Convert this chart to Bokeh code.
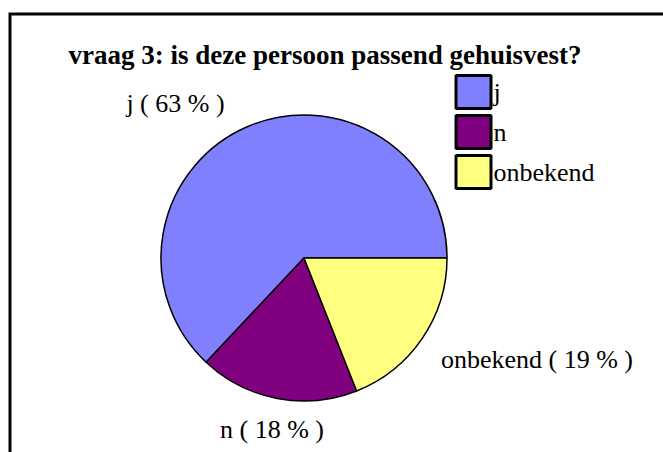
import math
from bokeh.plotting import figure
from bokeh.models import Range1d, ColumnDataSource
from bokeh.core.properties import value
from bokeh.embed import file_html
from bokeh.resources import INLINE

# ---- data ----
title_text = "vraag 3: is deze persoon passend gehuisvest?"
categories = ["j", "n", "onbekend"]
percentages = [63, 18, 19]
colors = ["#8080FF", "#800080", "#FFFF80"]

W, H = 663, 452
p = figure(width=W, height=H, output_backend="svg", toolbar_location=None,
           x_range=Range1d(0, W), y_range=Range1d(0, H),
           min_border=0, outline_line_color=None)
p.axis.visible = False
p.grid.visible = False
p.background_fill_color = "white"
p.border_fill_color = "white"

def Y(page_y):
    return H - page_y

def X(page_x):
    return page_x

FONT = value("Liberation Serif")

# frame (top and left edges visible)
p.line(x=[X(9.5), X(9.5), W + 10], y=[-10, Y(13.5), Y(13.5)],
       line_color="black", line_width=3, line_join="miter")

# pie
total = sum(percentages)
starts, ends = [], []
acc = 0.0
for v in percentages:
    starts.append(2 * math.pi * acc / total)
    acc += v
    ends.append(2 * math.pi * acc / total)
pie = ColumnDataSource(dict(cat=categories, pct=percentages, color=colors,
                            start=starts, end=ends))
cx, cy, r = X(303.5), Y(257.5), 143
p.wedge(x=cx, y=cy, radius=r, start_angle="start", end_angle="end",
        fill_color="color", line_color="black", line_width=1.5, source=pie,
        direction="anticlock")

# title
p.text(x=[X(68)], y=[Y(54)], text=[title_text], text_font=FONT,
       text_font_size="27px", text_font_style="bold", text_color="black",
       text_align="left", text_baseline="middle")

# pie labels
label_pos = [(X(175), Y(103)), (X(271.5), Y(429)), (X(536.5), Y(359))]
labels = [f"{c} ( {v} % )" for c, v in zip(categories, percentages)]
p.text(x=[q[0] for q in label_pos], y=[q[1] for q in label_pos], text=labels,
       text_font=FONT, text_font_size="26px", text_color="black",
       text_align="center", text_baseline="middle")

# legend
leg_y = [Y(91.5) - 40 * i for i in range(len(categories))]
p.rect(x=[X(473)] * len(categories), y=leg_y, width=35, height=33,
       fill_color=colors, line_color="black", line_width=3)
p.text(x=[X(493)] * len(categories), y=leg_y, text=categories, text_font=FONT,
       text_font_size="26px", text_color="black", text_align="left",
       text_baseline="middle")

open("out.html", "w").write(file_html(p, INLINE))
